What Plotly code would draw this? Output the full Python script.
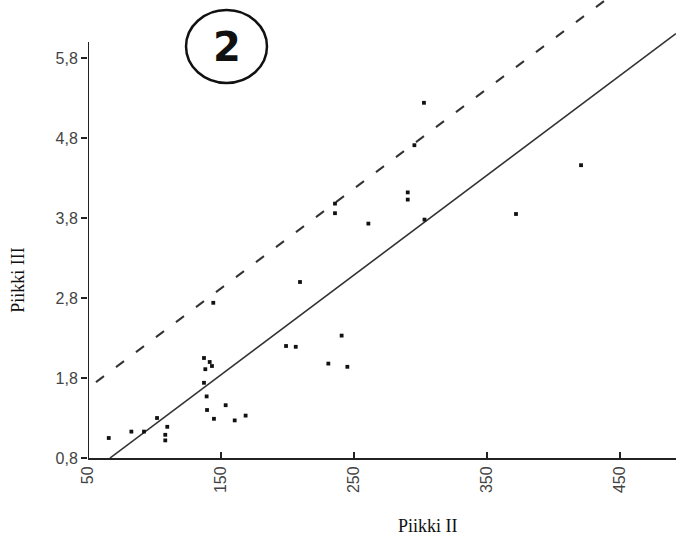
import plotly.graph_objects as go

# Observed points (Piikki II, Piikki III)
piikki_ii = [65.6, 82.6, 92.1, 101.9, 109.6, 108.1, 108.1,
             137.2, 141.5, 143.2, 138.2, 137.2, 139.2, 139.5, 144.7,
             153.5, 160.3, 168.5, 144.2,
             198.9, 206.2, 209.4, 230.7, 240.7, 245.0,
             235.7, 235.7, 260.8, 290.4, 290.4, 295.4, 302.6, 303.0,
             371.8, 420.7]
piikki_iii = [1.05, 1.13, 1.13, 1.30, 1.19, 1.09, 1.02,
              2.05, 2.00, 1.95, 1.91, 1.74, 1.57, 1.40, 1.29,
              1.46, 1.27, 1.33, 2.74,
              2.20, 2.19, 3.00, 1.98, 2.33, 1.94,
              3.98, 3.86, 3.73, 4.12, 4.03, 4.71, 5.24, 3.78,
              3.85, 4.46]

# Regression line and upper limit line
fit_slope = 0.01247
fit_intercept = -0.03
upper_offset = 1.08
fit_x = [66.5, 492.0]
upper_x = [56.0, 442.0]

x_ticks = [50, 150, 250, 350, 450]
x_ticktext = ["50", "150", "250", "350", "450"]
y_ticks = [0.8, 1.8, 2.8, 3.8, 4.8, 5.8]
y_ticktext = ["0,8", "1,8", "2,8", "3,8", "4,8", "5,8"]

fit_y = [fit_slope * x + fit_intercept for x in fit_x]
upper_y = [fit_slope * x + fit_intercept + upper_offset for x in upper_x]

fig = go.Figure()
fig.add_trace(go.Scatter(x=fit_x, y=fit_y, mode="lines",
                         line=dict(color="#333333", width=1.6),
                         showlegend=False))
fig.add_trace(go.Scatter(x=upper_x, y=upper_y, mode="lines",
                         line=dict(color="#333333", width=2, dash="10px,15px"),
                         showlegend=False))
fig.add_trace(go.Scatter(x=piikki_ii, y=piikki_iii, mode="markers",
                         marker=dict(symbol="square", size=3.8, color="#111111",
                                     line=dict(width=0)),
                         cliponaxis=False, showlegend=False))

tick_font = dict(family="Liberation Sans, Arial, sans-serif", size=16, color="#444444")

fig.update_layout(
    width=676, height=542,
    margin=dict(l=88, r=0, t=0, b=84),
    paper_bgcolor="white", plot_bgcolor="white",
    xaxis=dict(range=[50, 492.1], tickvals=x_ticks, ticktext=x_ticktext,
               tickangle=-90, ticks="inside", ticklen=6, tickwidth=1.5,
               tickcolor="#222222", showgrid=False, zeroline=False,
               showline=True, linecolor="#222222", linewidth=2,
               tickfont=tick_font),
    yaxis=dict(range=[0.8, 6.525], tickvals=y_ticks, ticktext=y_ticktext,
               ticks="outside", ticklen=6, tickwidth=1.5, tickcolor="#222222",
               showgrid=False, zeroline=False, showline=False,
               tickfont=tick_font),
    shapes=[
        dict(type="line", xref="x", yref="y", x0=50, x1=50, y0=0.8, y1=6.0,
             line=dict(color="#222222", width=2)),
        dict(type="circle", xref="paper", yref="paper",
             x0=0.1667, x1=0.3044, y0=0.819, y1=0.978,
             line=dict(color="#111111", width=2.5)),
    ],
    annotations=[
        dict(text="<b>2</b>", xref="paper", yref="paper", x=0.236, y=0.897,
             showarrow=False, xanchor="center", yanchor="middle",
             font=dict(family="DejaVu Sans, Arial, sans-serif", size=40, color="#111111")),
        dict(text="Piikki III", xref="paper", yref="paper", x=-0.119, y=0.389,
             textangle=-90, showarrow=False, xanchor="center", yanchor="middle",
             font=dict(family="Liberation Serif, Times New Roman, serif", size=18, color="#111111")),
        dict(text="Piikki II", xref="paper", yref="paper", x=0.578, y=-0.148,
             showarrow=False, xanchor="center", yanchor="middle",
             font=dict(family="Liberation Serif, Times New Roman, serif", size=18, color="#111111")),
    ],
)

fig.write_html("out.html", config={"displayModeBar": False},
               post_script="document.body.style.margin='0';document.body.style.overflow='hidden';")
